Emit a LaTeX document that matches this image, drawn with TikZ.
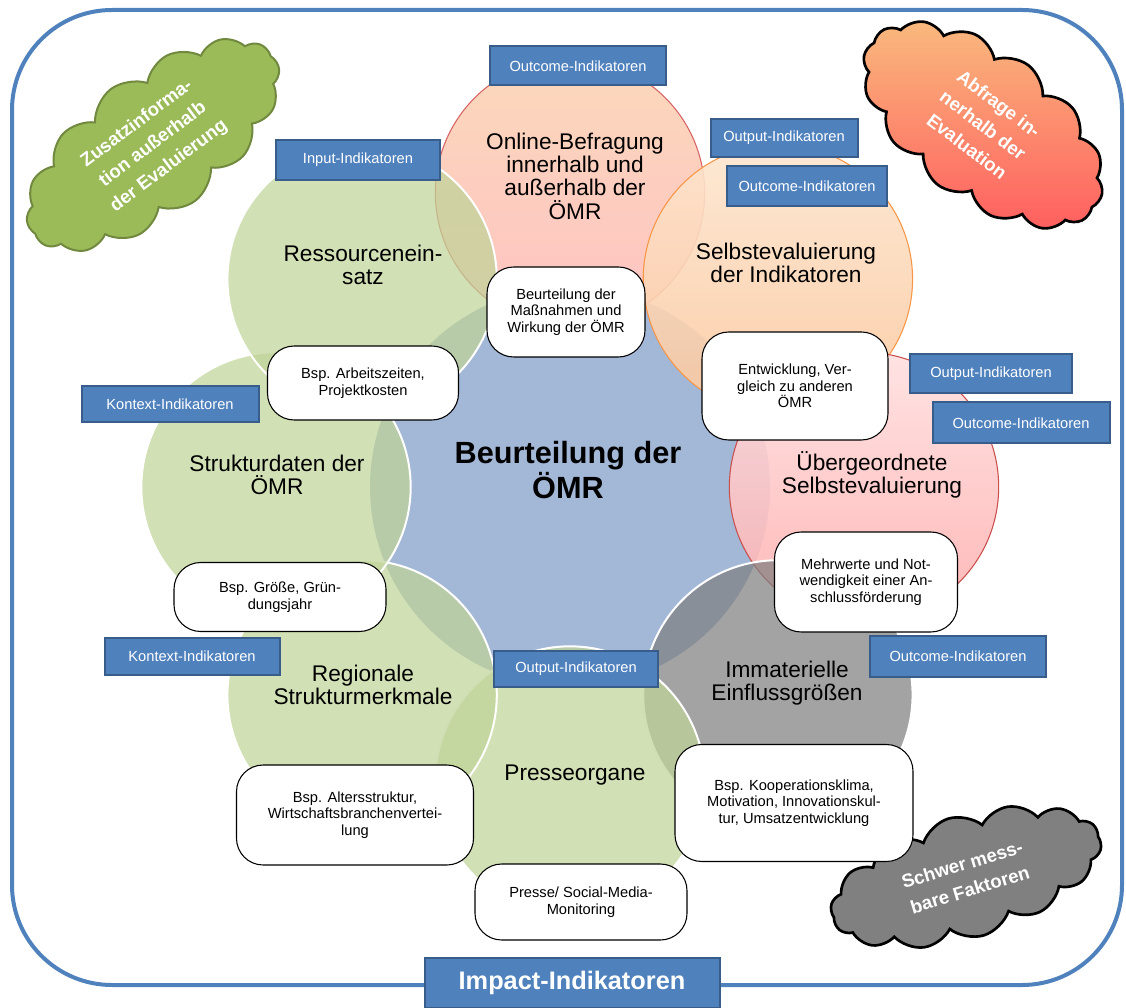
\documentclass[tikz,border=0pt]{standalone}
\usepackage{fontspec}
\setmainfont{Liberation Sans}
\usetikzlibrary{shapes.symbols,calc}

\definecolor{framebl}{RGB}{79,129,189}
\definecolor{labeledge}{RGB}{56,93,138}
\definecolor{midbl}{RGB}{163,183,215}
\definecolor{leaf}{RGB}{192,212,152}
\definecolor{stone}{RGB}{128,128,128}
\definecolor{grass}{RGB}{155,187,89}
\definecolor{grassedge}{RGB}{113,137,63}

\tikzset{
    sz/.style 2 args={minimum width=#1*0.75pt,minimum height=#2*0.75pt},
    bubble/.style={circle,minimum size=202pt,fill opacity=0.72},
    greenbub/.style={draw=white,line width=1.5pt,fill=leaf},
    graybub/.style={draw=white,line width=1.5pt,fill=stone},
    pinkbub/.style={draw={rgb,255:red,215;green,100;blue,100},line width=0.8pt,fill opacity=0.9,
        top color={rgb,255:red,251;green,212;blue,180},bottom color={rgb,255:red,255;green,188;blue,188}},
    peachbub/.style={draw={rgb,255:red,247;green,150;blue,70},line width=0.8pt,fill opacity=0.9,
        top color={rgb,255:red,253;green,230;blue,208},bottom color={rgb,255:red,251;green,200;blue,158}},
    redbub/.style={draw={rgb,255:red,200;green,80;blue,77},line width=0.8pt,fill opacity=0.9,
        top color={rgb,255:red,255;green,224;blue,224},bottom color={rgb,255:red,255;green,175;blue,175}},
    title/.style={align=center,font=\fontsize{17}{17.5}\selectfont},
    note/.style={draw=black,fill=white,line width=0.8pt,rounded corners=20pt,align=center,
        font=\fontsize{11}{12.5}\selectfont},
    ind/.style={draw=labeledge,line width=1.5pt,fill=framebl,text=white,inner sep=2pt,
        font=\fontsize{11}{13}\selectfont},
    puff/.style={cloud,cloud puffs=14,cloud puff arc=110,cloud ignores aspect,align=center,text=white,
        font=\fontsize{14}{20}\selectfont\bfseries}
}

\begin{document}
\begin{tikzpicture}[x=0.75pt,y=0.75pt]

  \useasboundingbox (0,0) rectangle (1126,1007);
  \draw[framebl,line width=3pt,rounded corners=75pt] (12,22) rectangle (1122,997);

  \node[puff,fill=grass,draw=grassedge,line width=1.5pt,sz={300}{140},rotate=37] (zusatz) at (153,862)
    {Zusatzinforma-\\tion außerhalb\\der Evaluierung};
  \node[puff,draw=black,line width=2pt,sz={280}{150},rotate=-37,
    top color={rgb,255:red,249;green,185;blue,125},bottom color={rgb,255:red,255;green,95;blue,95}] (abfrage) at (983,882)
    {Abfrage in-\\nerhalb der\\Evaluation};
  \node[puff,fill=stone,draw=black,line width=2pt,sz={280}{122},rotate=17] (schwer) at (966,130)
    {Schwer mess-\\bare Faktoren};

  \node[circle,fill=midbl,minimum size=300pt] (mid) at (570,520) {};
  \foreach \ang/\nm/\sty in {90/online/pinkbub,45/selbst/peachbub,0/ueber/redbub,-45/immat/graybub,
      -90/presse/greenbub,-135/region/greenbub,180/struktur/greenbub,135/ress/greenbub}
    \node[bubble,\sty] (\nm) at ($(mid)+(\ang:294)$) {};

  \node[title] (t-online) at (575,831) {Online-Befragung\\innerhalb und\\außerhalb der\\ÖMR};
  \node[title] (t-selbst) at (786,744) {Selbstevaluierung\\der Indikatoren};
  \node[title] (t-ueber) at (872,532) {Übergeordnete\\Selbstevaluierung};
  \node[title] (t-immat) at (787,324) {Immaterielle\\Einflussgrößen};
  \node[title] (t-presse) at (575,232) {Presseorgane};
  \node[title] (t-region) at (363,322) {Regionale\\Strukturmerkmale};
  \node[title] (t-struktur) at (277,532) {Strukturdaten der\\ÖMR};
  \node[title] (t-ress) at (363,742) {Ressourcenein-\\satz};
  \node[align=center,font=\fontsize{23}{26}\selectfont\bfseries] (t-mid) at (568,537) {Beurteilung der\\ÖMR};

  \node[note,sz={158}{90}] (massn) at (566,695) {Beurteilung der\\Maßnahmen und\\Wirkung der ÖMR};
  \node[note,sz={191}{74}] (arbeit) at (363,624) {Bsp. Arbeitszeiten,\\Projektkosten};
  \node[note,sz={186}{108}] (entw) at (795,621) {Entwicklung, Ver-\\gleich zu anderen\\ÖMR};
  \node[note,sz={183}{100}] (mehrw) at (866,425) {Mehrwerte und Not-\\wendigkeit einer An-\\schlussförderung};
  \node[note,sz={238}{117}] (koop) at (794,204) {Bsp. Kooperationsklima,\\Motivation, Innovationskul-\\tur, Umsatzentwicklung};
  \node[note,sz={212}{76}] (monitor) at (581,105) {Presse/ Social-Media-\\Monitoring};
  \node[note,sz={237}{100}] (alter) at (355,192) {Bsp. Altersstruktur,\\Wirtschaftsbranchenvertei-\\lung};
  \node[note,sz={212}{69}] (groesse) at (280,410) {Bsp. Größe, Grün-\\dungsjahr};

  \node[ind,sz={176}{39}] (oc-online) at (578,941) {Outcome-Indikatoren};
  \node[ind,sz={147}{38}] (op-selbst) at (784,869) {Output-Indikatoren};
  \node[ind,sz={160}{40}] (oc-selbst) at (807,821) {Outcome-Indikatoren};
  \node[ind,sz={164}{40}] (in-ress) at (358,847) {Input-Indikatoren};
  \node[ind,sz={177}{36}] (kx-struktur) at (170,603) {Kontext-Indikatoren};
  \node[ind,sz={162}{39}] (op-ueber) at (991,633) {Output-Indikatoren};
  \node[ind,sz={177}{41}] (oc-ueber) at (1021,584) {Outcome-Indikatoren};
  \node[ind,sz={175}{37}] (kx-region) at (192,351) {Kontext-Indikatoren};
  \node[ind,sz={164}{36}] (op-presse) at (576,338) {Output-Indikatoren};
  \node[ind,sz={176}{41}] (oc-immat) at (958,351) {Outcome-Indikatoren};
  \node[ind,sz={295}{50},font=\fontsize{19}{22}\selectfont\bfseries] (impact) at (572,24) {Impact-Indikatoren};
\end{tikzpicture}
\end{document}
